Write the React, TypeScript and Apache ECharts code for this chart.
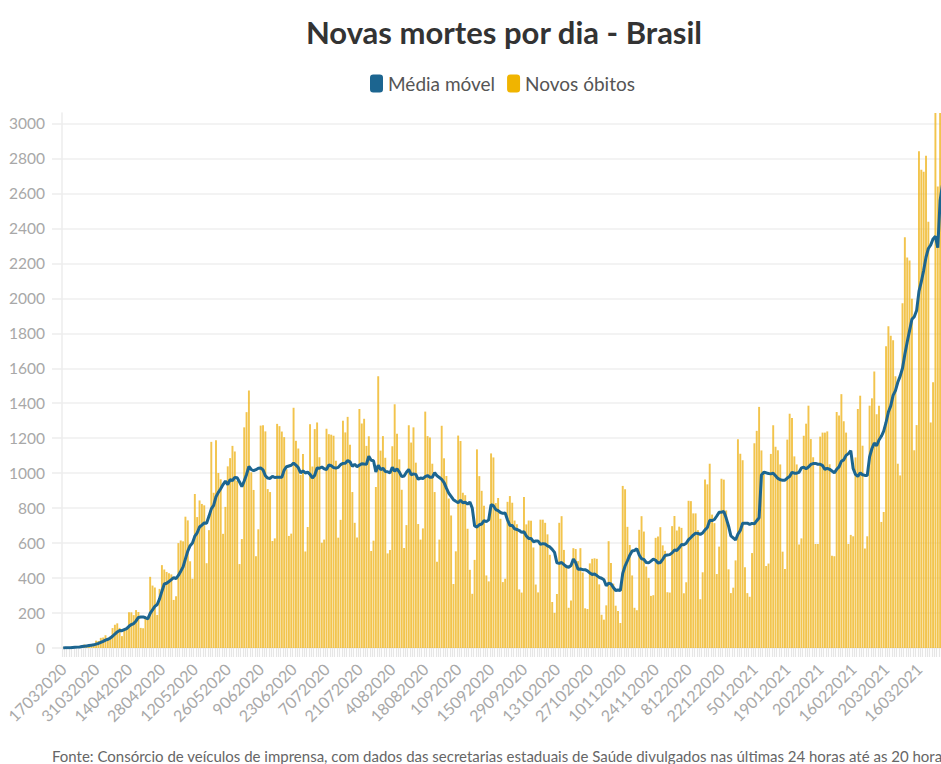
import React, { useEffect, useRef } from "react";
import * as echarts from "echarts";

// Daily new deaths (Novos óbitos), 17/03/2020 .. 27/03/2021
const mar2020 = [1, 3, 2, 5, 7, 7, 9, 12, 11, 20, 15, 22, 22, 23, 42];
const apr2020 = [40, 58, 60, 73, 54, 67, 114, 133, 141, 115, 68, 99, 105, 204, 204, 188, 217, 206, 115, 113, 166, 165, 407, 357, 346, 189, 338, 474, 449, 435];
const may2020 = [428, 421, 275, 296, 600, 615, 610, 751, 730, 496, 396, 881, 749, 844, 824, 816, 485, 674, 1179, 888, 1188, 1001, 965, 653, 807, 1039, 1086, 1156, 1124, 956, 480];
const jun2020 = [623, 1262, 1349, 1473, 1005, 904, 525, 679, 1272, 1274, 1239, 909, 892, 612, 627, 1282, 1269, 1238, 1206, 1022, 641, 654, 1374, 1185, 1141, 990, 1109, 552, 692, 1280];
const jul2020 = [1038, 1252, 1290, 1091, 602, 620, 1254, 1223, 1220, 1214, 1071, 631, 733, 1300, 1233, 1322, 1163, 892, 716, 632, 1367, 1284, 1311, 1156, 1211, 555, 614, 921, 1554, 1129, 1212];
const aug2020 = [1088, 541, 561, 1154, 1394, 1226, 1079, 905, 572, 703, 1274, 1175, 1262, 1060, 709, 620, 684, 1352, 1212, 1204, 1054, 892, 494, 620, 1271, 1085, 984, 855, 758, 366, 553];
const sep2020 = [1215, 1184, 888, 874, 682, 447, 310, 504, 1136, 983, 899, 814, 415, 381, 1113, 1090, 829, 858, 739, 377, 396, 836, 869, 831, 729, 708, 335, 317, 863, 707];
const oct2020 = [729, 728, 575, 363, 318, 734, 734, 716, 650, 533, 263, 201, 309, 716, 754, 561, 461, 230, 271, 571, 566, 497, 571, 432, 227, 223, 484, 510, 513, 510, 364];
const nov2020 = [190, 162, 244, 611, 486, 368, 242, 212, 143, 927, 908, 693, 589, 415, 230, 216, 676, 754, 666, 466, 401, 298, 302, 630, 638, 691, 587, 556, 319, 317];
const dec2020 = [697, 755, 672, 694, 687, 313, 376, 842, 840, 770, 770, 674, 279, 433, 964, 936, 1054, 763, 714, 423, 580, 968, 963, 787, 450, 314, 345, 501, 1194, 1111, 1074];
const jan2021 = [462, 314, 293, 543, 1171, 1242, 1379, 1130, 1009, 469, 483, 1110, 1274, 1151, 1131, 1050, 551, 452, 1192, 1340, 1316, 1096, 1050, 592, 627, 1214, 1283, 1386, 1195, 1091, 595];
const feb2021 = [595, 1209, 1232, 1232, 1239, 1051, 527, 525, 1350, 1330, 1452, 1297, 1232, 595, 647, 639, 1090, 1367, 1443, 1157, 569, 639, 1386, 1428, 1582, 1337, 1386, 721];
const mar2021 = [778, 1726, 1840, 1786, 1760, 1555, 1054, 987, 1972, 2349, 2233, 2216, 1997, 1131, 1275, 2841, 2736, 2724, 2815, 2438, 1290, 1520, 3251, 2640, 3100, 3650, 3438];

// 7-day moving average (Média móvel), same dates
const maMar2020 = [0, 1, 1, 2, 3, 4, 5, 6, 8, 10, 12, 14, 16, 18, 22];
const maApr2020 = [26, 32, 38, 45, 50, 56, 67, 80, 92, 100, 99, 105, 111, 124, 134, 140, 155, 175, 177, 178, 173, 167, 198, 218, 238, 249, 281, 325, 366, 370];
const maMay2020 = [380, 391, 403, 397, 415, 439, 464, 510, 554, 585, 600, 640, 659, 692, 703, 715, 714, 753, 796, 816, 865, 890, 911, 935, 954, 934, 963, 958, 976, 974, 950];
const maJun2020 = [923, 955, 993, 1038, 1021, 1014, 1020, 1028, 1030, 1019, 985, 972, 970, 982, 975, 976, 976, 976, 1018, 1037, 1041, 1045, 1058, 1046, 1032, 1001, 1013, 1001, 1006, 993];
const maJul2020 = [972, 988, 1030, 1028, 1035, 1025, 1021, 1047, 1043, 1032, 1029, 1033, 1049, 1056, 1057, 1072, 1065, 1039, 1051, 1037, 1046, 1054, 1052, 1051, 1097, 1074, 1071, 1007, 1046, 1020, 1028];
const maAug2020 = [1010, 1008, 1001, 1034, 1011, 1025, 1006, 980, 984, 1005, 1022, 991, 996, 993, 965, 972, 969, 980, 986, 977, 976, 1003, 985, 975, 964, 946, 914, 886, 867, 848, 839];
const maSep2020 = [831, 845, 831, 834, 823, 835, 800, 698, 692, 705, 709, 728, 723, 733, 820, 814, 792, 786, 775, 770, 772, 732, 701, 701, 682, 678, 672, 661, 665, 641];
const maOct2020 = [627, 627, 608, 612, 612, 593, 597, 595, 584, 578, 564, 547, 487, 484, 489, 477, 466, 462, 472, 509, 488, 451, 452, 448, 448, 441, 429, 421, 423, 414, 404];
const maNov2020 = [399, 390, 356, 371, 367, 346, 329, 332, 329, 427, 469, 499, 531, 555, 558, 568, 532, 510, 507, 489, 487, 497, 509, 502, 486, 489, 507, 529, 532, 534];
const maDec2020 = [544, 560, 558, 573, 592, 591, 599, 620, 632, 646, 657, 655, 650, 658, 676, 689, 730, 729, 735, 755, 776, 777, 781, 743, 698, 641, 630, 618, 651, 672, 713];
const maJan2021 = [714, 714, 707, 713, 710, 728, 745, 990, 1005, 1002, 998, 996, 1000, 985, 970, 962, 960, 960, 972, 981, 1005, 1000, 1000, 1005, 1030, 1034, 1025, 1035, 1050, 1055, 1056];
const maFeb2021 = [1051, 1051, 1043, 1021, 1028, 1022, 1012, 1002, 1022, 1036, 1068, 1076, 1102, 1112, 1129, 1027, 993, 981, 1002, 991, 987, 986, 1093, 1141, 1172, 1157, 1190, 1211];
const maMar2021 = [1240, 1290, 1350, 1385, 1445, 1472, 1520, 1555, 1600, 1680, 1750, 1815, 1880, 1895, 1930, 2040, 2095, 2160, 2235, 2285, 2305, 2340, 2355, 2290, 2560, 2650, 2700];

const FIRST_DAY = { year: 2020, month: 3, day: 17 };
const yTicks = { min: 0, max: 3060, interval: 200 };
const TITLE = "Novas mortes por dia - Brasil";
const SERIES_MA = "Média móvel";
const SERIES_DAILY = "Novos óbitos";
const FOOTER =
  "Fonte: Consórcio de veículos de imprensa, com dados das secretarias estaduais de Saúde divulgados nas últimas 24 horas até as 20 horas";

const daily = [
  ...mar2020, ...apr2020, ...may2020, ...jun2020, ...jul2020, ...aug2020, ...sep2020,
  ...oct2020, ...nov2020, ...dec2020, ...jan2021, ...feb2021, ...mar2021,
];
const movingAvg = [
  ...maMar2020, ...maApr2020, ...maMay2020, ...maJun2020, ...maJul2020, ...maAug2020, ...maSep2020,
  ...maOct2020, ...maNov2020, ...maDec2020, ...maJan2021, ...maFeb2021, ...maMar2021,
];

function buildDateLabels(n: number): string[] {
  const out: string[] = [];
  const start = Date.UTC(FIRST_DAY.year, FIRST_DAY.month - 1, FIRST_DAY.day);
  for (let i = 0; i < n; i++) {
    const d = new Date(start + i * 86400000);
    const dd = String(d.getUTCDate());
    const mm = String(d.getUTCMonth() + 1).padStart(2, "0");
    out.push(dd + mm + d.getUTCFullYear());
  }
  return out;
}

const FONT = "Lato, 'Noto Sans', sans-serif";

export default function App() {
  const ref = useRef<HTMLDivElement>(null);

  useEffect(() => {
    if (!ref.current) return;
    const chart = echarts.init(ref.current, undefined, { renderer: "svg" });
    const labels = buildDateLabels(daily.length);
    chart.setOption({
      animation: false,
      title: {
        text: TITLE,
        left: "center",
        top: 11,
        textStyle: { fontFamily: FONT, fontSize: 31, fontWeight: "bold", color: "#333333" },
      },
      legend: {
        top: 69,
        left: 365,
        icon: "roundRect",
        itemWidth: 13,
        itemHeight: 18,
        itemGap: 12,
        textStyle: { fontFamily: FONT, fontSize: 19, color: "#555555" },
        data: [
          { name: SERIES_MA, itemStyle: { color: "#1c6590" } },
          { name: SERIES_DAILY, itemStyle: { color: "#f0b400", opacity: 1 } },
        ],
      },
      grid: { left: 62, right: 62, top: 113, bottom: 116 },
      xAxis: {
        type: "category",
        data: labels,
        boundaryGap: true,
        axisLine: { show: false },
        axisTick: { show: true, interval: 0, length: 9, lineStyle: { color: "#e6e6e6", width: 1.2 } },
        axisLabel: {
          interval: 13,
          rotate: 45,
          margin: 18,
          color: "#a8a8a8",
          fontFamily: FONT,
          fontSize: 16,
        },
        splitLine: { show: false },
      },
      yAxis: {
        type: "value",
        min: yTicks.min,
        max: yTicks.max,
        interval: yTicks.interval,
        axisLine: { show: true, lineStyle: { color: "#ececec", width: 1.5 } },
        axisTick: { show: true, length: 10, lineStyle: { color: "#ececec", width: 1.5 } },
        axisLabel: {
          showMaxLabel: false,
          margin: 17,
          color: "#a8a8a8",
          fontFamily: FONT,
          fontSize: 15.5,
          formatter: (v: number) => String(v),
        },
        splitLine: { show: true, showMaxLine: false, lineStyle: { color: "#efefef", width: 1.5 } },
      },
      series: [
        {
          name: SERIES_DAILY,
          type: "bar",
          data: daily,
          barCategoryGap: "18%",
          itemStyle: { color: "#efb520", opacity: 0.8 },
          z: 2,
        },
        {
          name: SERIES_MA,
          type: "line",
          data: movingAvg,
          showSymbol: false,
          symbol: "none",
          lineStyle: { color: "#1c6590", width: 3 },
          itemStyle: { color: "#1c6590" },
          z: 3,
        },
      ],
      graphic: [
        {
          type: "text",
          left: 52,
          top: 748,
          style: { text: FOOTER, fontFamily: FONT, fontSize: 15, fill: "#666666" },
        },
      ],
    });
    return () => chart.dispose();
  }, []);

  return (
    <div style={{ position: "fixed", left: 0, top: 0, width: 941, height: 764, overflow: "hidden", background: "#fff" }}>
      <div ref={ref} style={{ width: 1008, height: 764 }} />
    </div>
  );
}
